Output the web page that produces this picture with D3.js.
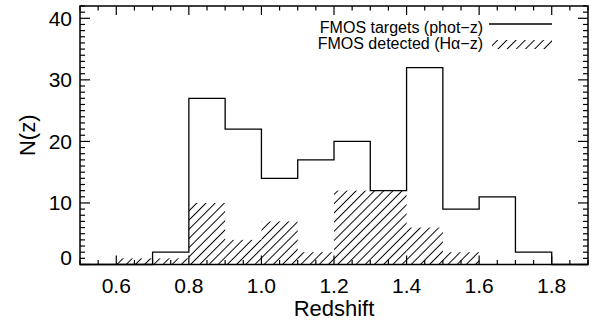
<!DOCTYPE html>
<html>
<head>
<meta charset="utf-8">
<script src="https://d3js.org/d3.v7.min.js"></script>
<style>
  body { margin: 0; background: #fff; }
  text { font-family: "Liberation Sans", Arial, Helvetica, sans-serif; fill: #000; }
</style>
</head>
<body>
<svg id="chart" width="592" height="320"></svg>
<script>
// histogram bins (lower edges, width 0.1)
const binEdges = [0.5, 0.6, 0.7, 0.8, 0.9, 1.0, 1.1, 1.2, 1.3, 1.4, 1.5, 1.6, 1.7, 1.8];
const targets  = [0, 0, 2, 27, 22, 14, 17, 20, 12, 32, 9, 11, 2, 0];
const detected = [0, 1, 1, 10, 4, 7, 2, 12, 12, 6, 2, 0, 0, 0];
const binWidth = 0.1;

const xTickLabels = [0.6, 0.8, 1.0, 1.2, 1.4, 1.6, 1.8];
const yTickLabels = [0, 10, 20, 30, 40];
const legendLabels = ["FMOS targets (phot\u2212z)", "FMOS detected (H\u03b1\u2212z)"];

const svg = d3.select("svg#chart");
const plotL = 80, plotR = 588, plotT = 6, plotB = 264.5;

const x = d3.scaleLinear().domain([0.5, 1.9]).range([plotL, plotR]);
const y = d3.scaleLinear().domain([0, 42]).range([plotB, plotT]);

// hatch pattern "////"
const defs = svg.append("defs");
defs.append("pattern")
    .attr("id", "hatch")
    .attr("patternUnits", "userSpaceOnUse")
    .attr("width", 6.5).attr("height", 10)
    .attr("patternTransform", "rotate(45)")
  .append("line")
    .attr("x1", 3.25).attr("x2", 3.25)
    .attr("y1", 0).attr("y2", 10)
    .attr("stroke", "#000").attr("stroke-width", 1);

// detected histogram (hatched, no outline)
const detData = binEdges.map((e, i) => ({x0: e, v: detected[i]})).filter(d => d.v > 0);
svg.append("g").selectAll("rect").data(detData)
   .join("rect")
   .attr("x", d => x(d.x0))
   .attr("width", d => x(d.x0 + binWidth) - x(d.x0))
   .attr("y", d => y(d.v))
   .attr("height", d => y(0) - y(d.v))
   .attr("fill", "url(#hatch)");

// targets histogram (step outline)
const stepPts = binEdges.map((e, i) => [e, targets[i]]);
stepPts.push([binEdges[binEdges.length - 1] + binWidth, 0]);
svg.append("path")
   .datum(stepPts)
   .attr("fill", "none")
   .attr("stroke", "#000")
   .attr("stroke-width", 1.3)
   .attr("d", d3.line().x(d => x(d[0])).y(d => y(d[1])).curve(d3.curveStepAfter));

// axes box
svg.append("rect")
   .attr("x", plotL).attr("y", plotT)
   .attr("width", plotR - plotL).attr("height", plotB - plotT)
   .attr("fill", "none").attr("stroke", "#000").attr("stroke-width", 1.5);

// ticks on all four sides
const xMinor = d3.range(0.5, 1.9001, 0.05);
const yMinor = d3.range(0, 42.001, 1);
const isMajorX = v => Math.abs(v * 5 - Math.round(v * 5)) < 1e-6;
const isMajorY = v => v % 10 === 0;
const ticks = svg.append("g").attr("stroke", "#000").attr("stroke-width", 1.2);
xMinor.forEach(v => {
  const len = isMajorX(v) ? 9 : 4.5;
  ticks.append("line").attr("x1", x(v)).attr("x2", x(v)).attr("y1", plotB).attr("y2", plotB - len);
  ticks.append("line").attr("x1", x(v)).attr("x2", x(v)).attr("y1", plotT).attr("y2", plotT + len);
});
yMinor.forEach(v => {
  const len = isMajorY(v) ? 10 : 5;
  ticks.append("line").attr("y1", y(v)).attr("y2", y(v)).attr("x1", plotL).attr("x2", plotL + len);
  ticks.append("line").attr("y1", y(v)).attr("y2", y(v)).attr("x1", plotR).attr("x2", plotR - len);
});

// tick labels
svg.append("g").selectAll("text").data(xTickLabels)
   .join("text")
   .attr("x", d => x(d)).attr("y", 293)
   .attr("text-anchor", "middle")
   .attr("font-size", 21)
   .text(d => d.toFixed(1));

svg.append("g").selectAll("text").data(yTickLabels)
   .join("text")
   .attr("x", 72).attr("y", d => Math.min(y(d) + 7.5, plotB))
   .attr("text-anchor", "end")
   .attr("font-size", 21)
   .text(d => d);

// axis titles
svg.append("text")
   .attr("x", (plotL + plotR) / 2).attr("y", 316)
   .attr("text-anchor", "middle").attr("font-size", 22)
   .text("Redshift");
svg.append("text")
   .attr("transform", `translate(35,${(plotT + plotB) / 2}) rotate(-90)`)
   .attr("text-anchor", "middle").attr("font-size", 22)
   .text("N(z)");

// legend
const leg = svg.append("g");
leg.selectAll("text").data(legendLabels)
   .join("text")
   .attr("x", 483).attr("y", (d, i) => 33 + i * 15.5)
   .attr("text-anchor", "end").attr("font-size", 16)
   .text(d => d);
leg.append("line")
   .attr("x1", 489).attr("x2", 552).attr("y1", 24).attr("y2", 24)
   .attr("stroke", "#000").attr("stroke-width", 1.3);
leg.append("rect")
   .attr("x", 492).attr("y", 40).attr("width", 60).attr("height", 9)
   .attr("fill", "url(#hatch)");
</script>
</body>
</html>
